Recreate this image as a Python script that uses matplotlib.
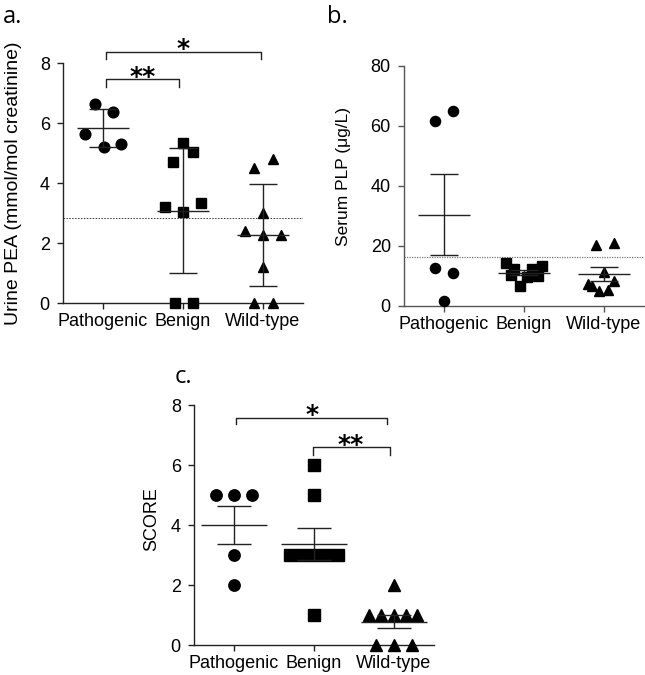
import numpy as np
import matplotlib
matplotlib.use('Agg')
import matplotlib.pyplot as plt

# DATA
groups = ['Pathogenic', 'Benign', 'Wild-type']

# a. urine PEA
pea_path = [6.63, 6.37, 5.64, 5.20, 5.30]
pea_benign = [5.33, 5.03, 4.69, 3.21, 3.32, 3.02, 0.0, 0.0]
pea_wt = [4.49, 4.79, 2.99, 2.41, 2.27, 2.27, 1.20, 0.0, 0.0]
pea_cutoff = 2.82

# b. serum PLP
plp_path = [61.8, 64.9, 12.6, 11.1, 1.8]
plp_benign = [14.4, 12.2, 10.2, 6.6, 9.8, 12.4, 9.9, 13.4]
plp_wt = [20.3, 21.1, 11.4, 7.2, 6.8, 5.0, 5.3, 8.5]
plp_cutoff = 16.3

# c. score
score_path = [5, 5, 5, 3, 2]
score_benign = [6, 5, 3, 3, 3, 3, 3, 1]
score_wt = [2, 1, 1, 1, 1, 1, 0, 0, 0]

# horizontal jitter of the points (layout only)
jit_a = [[-0.10, 0.12, -0.22, 0.01, 0.23],
         [0.0, 0.12, -0.12, -0.22, 0.22, 0.0, -0.10, 0.12],
         [-0.11, 0.12, 0.0, -0.22, 0.0, 0.22, 0.0, -0.11, 0.12]]
jit_b = [[-0.11, 0.11, -0.11, 0.11, 0.0],
         [-0.22, -0.125, -0.16, -0.05, 0.04, 0.10, 0.17, 0.23],
         [-0.10, 0.12, 0.0, -0.20, -0.15, -0.06, 0.05, 0.125]]
jit_c = [[-0.23, 0.0, 0.23, 0.0, 0.0],
         [0.0, 0.0, -0.30, -0.15, 0.0, 0.15, 0.30, 0.0],
         [0.0, -0.31, -0.16, 0.0, 0.15, 0.29, -0.23, 0.0, 0.23]]

markers = ['o', 's', '^']
LC = '#222222'

plt.rcParams['font.family'] = ['Liberation Sans', 'DejaVu Sans']

fig = plt.figure(figsize=(6.45, 6.75), dpi=100)
W, H = 645.0, 675.0


def px_axes(l, r, top, bottom):
    return fig.add_axes([l / W, (H - bottom) / H, (r - l) / W, (bottom - top) / H])


def style(ax, ymax, yticks, spine_col):
    ax.set_xlim(-0.5, 2.5)
    ax.set_ylim(0, ymax)
    ax.set_xticks(range(3))
    ax.set_xticklabels(groups)
    ax.set_yticks(yticks)
    for s in ['top', 'right']:
        ax.spines[s].set_visible(False)
    for s in ['left', 'bottom']:
        ax.spines[s].set_color(spine_col)
        ax.spines[s].set_linewidth(1.0)
    ax.tick_params(axis='both', labelsize=13, length=4.5, width=1.0, color=spine_col)
    ax.tick_params(axis='y', pad=5)
    ax.tick_params(axis='x', pad=3)


def draw_group(ax, x0, vals, offs, marker, err, mean_hw, cap_hw, ms):
    vals = np.array(vals, dtype=float)
    ax.plot(x0 + np.array(offs), vals, ls='none', marker=marker, ms=ms,
            color='black', clip_on=False, zorder=3)
    m = vals.mean()
    ax.hlines(m, x0 - mean_hw, x0 + mean_hw, color=LC, lw=1.0, zorder=4)
    ax.vlines(x0, m - err, m + err, color=LC, lw=1.0, zorder=4)
    ax.hlines([m - err, m + err], x0 - cap_hw, x0 + cap_hw, color=LC, lw=1.0, zorder=4)


def sd(v):
    return np.std(v, ddof=1)


def sem(v):
    return np.std(v, ddof=1) / np.sqrt(len(v))


def bracket(ax, x1, x2, y, leg):
    ax.plot([x1, x1, x2, x2], [y - leg, y, y, y - leg], color=LC, lw=1.0, clip_on=False)


def stars(ax, x, y, s):
    ax.text(x, y, s, ha='center', va='baseline', fontsize=18, fontweight='bold',
            family='DejaVu Sans', clip_on=False)


# a.
ax = px_axes(63, 303, 63, 303)
style(ax, 8, [0, 2, 4, 6, 8], LC)
for i, d in enumerate([pea_path, pea_benign, pea_wt]):
    draw_group(ax, i, d, jit_a[i], markers[i], sd(d), 0.32, 0.17, 7.7)
ax.axhline(pea_cutoff, color='#333333', lw=0.7, ls=(0, (1.5, 1.5)), zorder=1)
bracket(ax, 0.04, 0.95, 7.46, 0.27)
bracket(ax, 0.04, 1.98, 8.38, 0.26)
stars(ax, 0.49, 7.30, '**')
stars(ax, 1.0, 8.24, '*')
ax.set_ylabel('Urine PEA (mmol/mol creatinine)', fontsize=14)
ax.yaxis.set_label_coords(-0.17, 0.5)

# b.
ax = px_axes(404, 644, 66, 306)
style(ax, 80, [0, 20, 40, 60, 80], '#555555')
for i, d in enumerate([plp_path, plp_benign, plp_wt]):
    draw_group(ax, i, d, jit_b[i], markers[i], sem(d), 0.33, 0.17, 7.3)
ax.axhline(plp_cutoff, color='#777777', lw=0.9, ls=(0, (1, 1)), zorder=1)
ax.set_ylabel('Serum PLP (μg/L)', fontsize=12.5)
ax.yaxis.set_label_coords(-0.22, 0.5375)

# c.
ax = px_axes(194, 434, 405, 645)
style(ax, 8, [0, 2, 4, 6, 8], LC)
for i, d in enumerate([score_path, score_benign, score_wt]):
    draw_group(ax, i, d, jit_c[i], markers[i], sem(d), 0.41, 0.21, 8.2)
bracket(ax, 0.02, 1.91, 7.56, 0.20)
bracket(ax, 0.99, 1.95, 6.61, 0.28)
stars(ax, 0.975, 7.45, '*')
stars(ax, 1.46, 6.45, '**')
ax.set_ylabel('SCORE', fontsize=13)
ax.yaxis.set_label_coords(-0.14, 0.525)

# panel letters
for lab, x, y in [('a.', 3, 23), ('b.', 327, 23), ('c.', 175, 383)]:
    fig.text(x / W, (H - y) / H, lab, fontsize=17, family='Open Sans',
             ha='left', va='baseline')

fig.savefig('out.png', dpi=100)
